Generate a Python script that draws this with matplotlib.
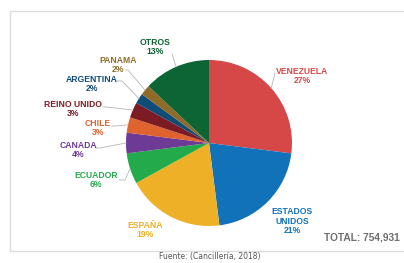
import numpy as np
import matplotlib.pyplot as plt
from matplotlib.patches import Rectangle

paises = ["VENEZUELA", "ESTADOS\nUNIDOS", "ESPAÑA", "ECUADOR", "CANADA",
          "CHILE", "REINO UNIDO", "ARGENTINA", "PANAMA", "OTROS"]
porcentajes = [27, 21, 19, 6, 4, 3, 3, 2, 2, 13]
colores = ["#D64848", "#1172B9", "#EEB027", "#22AA4B", "#6D3A95",
           "#DF632F", "#7D1B25", "#0F4C78", "#8E6C27", "#0D6434"]
total = "TOTAL: 754,931"

W, H = 404, 263
cx, cy, r = 209, H - 143, 83

# posicion del texto (x, y imagen), arranque de la linea guia y tramo horizontal
pos_texto = [(302, 76), (292, 221), (145, 230), (96, 180), (78, 150),
             (98, 128), (73, 109), (92, 84), (118, 65), (155, 47)]
guia = [(275, 73), None, None, (119, 180), (96, 148),
        (112, 126), (103, 107), (116, 81), (126, 70), (172, 54)]
tramo = [0, 0, 0, 6, 4, 4, 4, 6, 2, 0]

fig = plt.figure(figsize=(W / 100, H / 100), dpi=100)
ax = fig.add_axes([0, 0, 1, 1])

ax.add_patch(Rectangle((10, H - 251), 420, 240, fill=False,
                       edgecolor="#DCDCDC", lw=1))

ax.pie(porcentajes, colors=colores, startangle=90,
       counterclock=False, center=(cx, cy), radius=r,
       frame=True, wedgeprops=dict(linewidth=0))
ax.set_xlim(0, W)
ax.set_ylim(0, H)
ax.set_aspect("auto")
ax.axis("off")

acum = 0
for i, (nombre, p) in enumerate(zip(paises, porcentajes)):
    ang = np.deg2rad(90 - 360 * (acum + p / 2) / 100)
    acum += p
    tx, ty = pos_texto[i]
    ax.text(tx, H - ty, f"{nombre}\n{p}%", ha="center", va="center",
            color=colores[i], fontsize=6.2, fontweight="heavy",
            family="Liberation Sans", linespacing=1.05)
    if guia[i] is not None:
        gx, gy = guia[i]
        px, py = cx + r * np.cos(ang), cy + r * np.sin(ang)
        ax.plot([gx, gx + tramo[i], px], [H - gy, H - gy, py],
                color="#B5B5B5", lw=0.6)

ax.text(400, H - 237, total, ha="right", va="center", color="#6E6E6E",
        fontsize=7.3, fontweight="bold", family="Liberation Sans")
ax.text(210, H - 257, "Fuente: (Cancillería, 2018)", ha="center", va="center",
        color="#555555", fontsize=5.5, family="DejaVu Sans")

fig.savefig("out.png", dpi=100)
